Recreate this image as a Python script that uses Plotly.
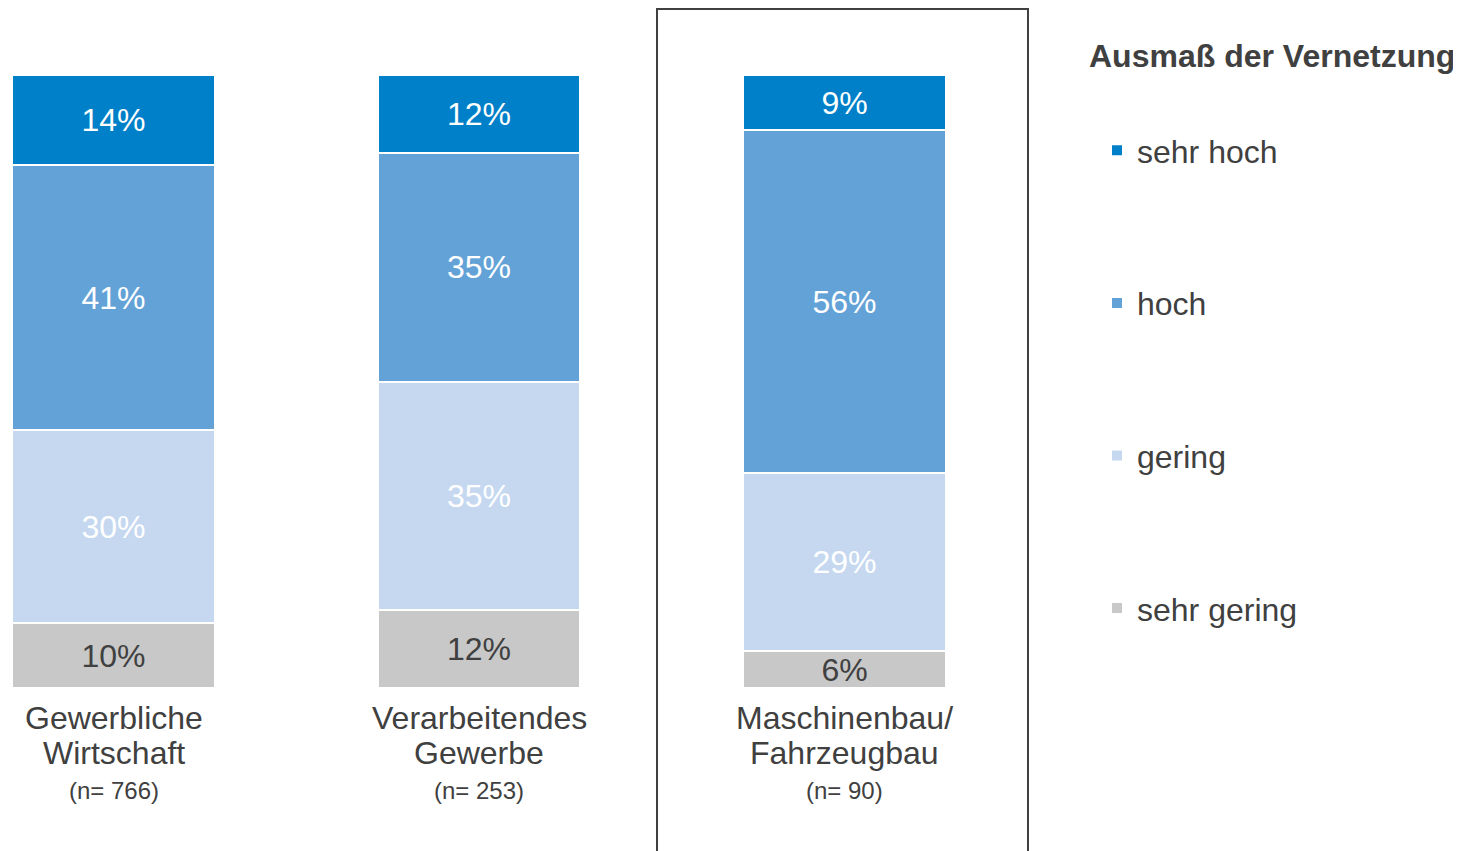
import plotly.graph_objects as go

categories = ["Gewerbliche Wirtschaft", "Verarbeitendes Gewerbe", "Maschinenbau/ Fahrzeugbau"]
cat_line1 = ["Gewerbliche", "Verarbeitendes", "Maschinenbau/"]
cat_line2 = ["Wirtschaft", "Gewerbe", "Fahrzeugbau"]
sample_sizes = ["(n= 766)", "(n= 253)", "(n= 90)"]

series_names = ["sehr gering", "gering", "hoch", "sehr hoch"]
sehr_gering = [10, 12, 6]
gering = [30, 35, 29]
hoch = [41, 35, 56]
sehr_hoch = [14, 12, 9]
series_values = [sehr_gering, gering, hoch, sehr_hoch]
series_colors = ["#C8C8C8", "#C5D8F0", "#63A2D7", "#0080C8"]
text_colors = ["#404040", "#FFFFFF", "#FFFFFF", "#FFFFFF"]
legend_ranks = [4, 3, 2, 1]

FONT = "Liberation Sans, Arial, sans-serif"
TXT = "#404040"

# page offset (browser body margin) compensation
OFF = 8
W, H = 1461 - OFF, 851 - OFF
PL, PT, PW, PH = 13, 75, 1037, 613  # plot area in screen px

fig = go.Figure()
xs = list(range(len(categories)))
for name, vals, col, tcol, rk in zip(series_names, series_values, series_colors, text_colors, legend_ranks):
    fig.add_trace(go.Bar(
        x=xs, y=vals, name=name, legendgroup=name, legendrank=rk,
        marker=dict(color=col, line=dict(color="white", width=2)),
        text=[f"{v}%" for v in vals], texttemplate="%{text}",
        textposition="inside", insidetextanchor="middle", textangle=0,
        textfont=dict(family=FONT, size=32, color=tcol),
        hoverinfo="skip",
    ))

annotations = []
for i in xs:
    for txt, ypx, size in [(cat_line1[i], 718, 32), (cat_line2[i], 753, 32), (sample_sizes[i], 790, 24)]:
        annotations.append(dict(
            x=i, y=(PT + PH - ypx) / PH, xref="x", yref="paper",
            text=txt, showarrow=False, xanchor="center", yanchor="middle",
            font=dict(family=FONT, size=size, color=TXT),
        ))
annotations.append(dict(
    x=(1087 - PL) / PW, y=(PT + PH - 56) / PH, xref="paper", yref="paper",
    text="<b>Ausmaß der Vernetzung</b>", showarrow=False,
    xanchor="left", yanchor="middle",
    font=dict(family=FONT, size=32, color=TXT),
))

fig.update_layout(
    width=W, height=H,
    barmode="stack", barnorm="percent", bargap=0.445,
    plot_bgcolor="white", paper_bgcolor="white",
    margin=dict(l=PL - OFF, r=W - (PL - OFF) - PW, t=PT - OFF, b=H - (PT - OFF) - PH),
    xaxis=dict(range=[-0.275, -0.275 + PW / 365.5], showticklabels=False, showgrid=False,
               zeroline=False, showline=False, ticks=""),
    yaxis=dict(range=[0, 100], visible=False),
    uniformtext=dict(minsize=32, mode="show"),
    showlegend=True,
    legend=dict(
        xref="container", yref="container",
        x=(1097 - OFF) / W, y=1 - (123 - OFF) / H, xanchor="left", yanchor="top",
        traceorder="grouped", tracegroupgap=108,
        maxheight=800,
        font=dict(family=FONT, size=32, color=TXT),
        bgcolor="rgba(0,0,0,0)",
    ),
    annotations=annotations,
    shapes=[dict(type="rect", xref="x", yref="paper",
                 x0=1.487, x1=2.502, y0=(PT + PH - 870) / PH, y1=(PT + PH - 9) / PH,
                 line=dict(color="#404040", width=2), fillcolor="rgba(0,0,0,0)",
                 layer="above")],
)

fig.write_html("out.html")
